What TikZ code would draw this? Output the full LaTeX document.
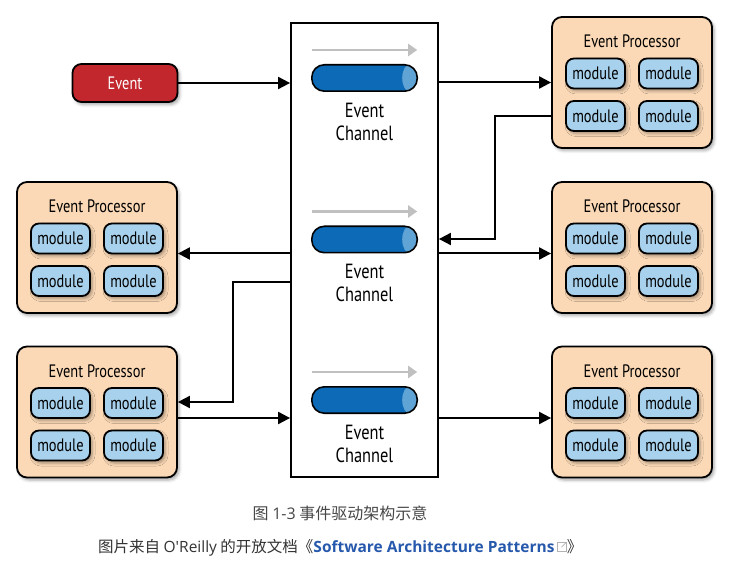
\documentclass[tikz,border=0pt]{standalone}
\usepackage{fontspec}
\setmainfont{Noto Sans CJK SC}
\newfontfamily\diafont[FakeStretch=0.8]{PT Sans}
\newfontfamily\latinfont{Open Sans}
\usepackage{tikz}
\usetikzlibrary{arrows.meta,shadows.blur}

\definecolor{procfill}{RGB}{251,217,182}
\definecolor{modfill}{RGB}{167,209,236}
\definecolor{eventred}{RGB}{193,39,45}
\definecolor{pipeblue}{RGB}{12,106,182}
\definecolor{capblue}{RGB}{96,164,214}
\definecolor{flowgrey}{RGB}{192,192,192}
\definecolor{captext}{RGB}{51,51,51}
\definecolor{linkblue}{RGB}{38,88,172}

\begin{document}
\begin{tikzpicture}[x=1pt,y=1pt,
	boxshadow/.style={blur shadow={shadow xshift=2pt,shadow yshift=-2.5pt,shadow blur radius=3pt,shadow opacity=35}},
	proc/.style={draw,line width=1.8pt,fill=procfill,rounded corners=10pt,minimum width=160pt,minimum height=131pt,boxshadow},
	modbox/.style={draw,line width=1.8pt,fill=modfill,rounded corners=8pt,minimum width=59pt,minimum height=30pt,inner sep=0pt,boxshadow,font=\diafont\fontsize{18}{20}\selectfont},
	pipe/.style={fill=pipeblue,rounded corners=12.5pt,minimum width=105pt,minimum height=26pt,inner sep=0pt},
	conn/.style={line width=2pt,-{Triangle[length=12pt,width=12pt]}},
	flow/.style={flowgrey,line width=2.4pt,-{Triangle[length=9pt,width=12pt]}}]
		\useasboundingbox (0,0) rectangle (735,573);
		\draw[color=black]
		node[draw,line width=1.8pt,minimum width=147pt,minimum height=454pt] (chan) at (364.5,323){}
		node[draw,line width=1.8pt,fill=eventred,text=white,rounded corners=9pt,minimum width=105pt,minimum height=38pt,boxshadow,font=\diafont\fontsize{18}{20}\selectfont] (event) at (125,490){Event}
		node[proc] (rpA) at (632,490.5){}
		node[proc] (rpB) at (632,325.5){}
		node[proc] (rpC) at (632,161){}
		node[proc] (lpA) at (97,325.5){}
		node[proc] (lpB) at (97,161){};
		\foreach \p in {rpA,rpB,rpC,lpA,lpB}{
			\node[font=\diafont\fontsize{18}{20}\selectfont] (\p-title) at ([yshift=41pt]\p.center) {Event Processor};
			\node[modbox] (\p-m1) at ([xshift=-36.5pt,yshift=9pt]\p.center) {module};
			\node[modbox] (\p-m2) at ([xshift=36.5pt,yshift=9pt]\p.center) {module};
			\node[modbox] (\p-m3) at ([xshift=-36.5pt,yshift=-33.5pt]\p.center) {module};
			\node[modbox] (\p-m4) at ([xshift=36.5pt,yshift=-33.5pt]\p.center) {module};
		}
		% channels with their pipes
		\node[pipe] (pipeA) at (364.5,495){};
		\node[pipe] (pipeB) at (364.5,333.5){};
		\node[pipe] (pipeC) at (364.5,173){};
		\foreach \c in {pipeA,pipeB,pipeC}{
			\begin{scope}
				\clip[rounded corners=12.5pt] (\c.south west) rectangle (\c.north east);
				\fill[capblue] ([xshift=-7pt]\c.east) ellipse [x radius=8pt,y radius=14pt];
			\end{scope}
			\draw[line width=1.6pt,rounded corners=12.5pt] (\c.south west) rectangle (\c.north east);
			\draw[flow] ([yshift=28pt]\c.west) -- ([yshift=28pt]\c.east);
		}
		\node[align=center,font=\diafont\fontsize{20.5}{23}\selectfont] (chanA-text) at (364.5,451){Event\\Channel};
		\node[align=center,font=\diafont\fontsize{20.5}{23}\selectfont] (chanB-text) at (364.5,290){Event\\Channel};
		\node[align=center,font=\diafont\fontsize{20.5}{23}\selectfont] (chanC-text) at (364.5,129){Event\\Channel};
		% connectors
		\coordinate (bendR) at (495,334);
		\coordinate (tapL) at (233,291);
		\coordinate (bendL) at (233,171);
		\coordinate (outRB) at ([yshift=-6pt]rpB.west);
		\coordinate (inLA) at ([yshift=-6pt]lpA.east);
		\coordinate (outLB) at ([yshift=-6pt]lpB.east);
		\coordinate (inRC) at ([yshift=-6pt]rpC.west);
		\draw[conn] (event.east) -- (event.east -| chan.west);
		\draw[conn] (chan.east |- rpA.west) -- (rpA.west);
		\draw[conn] ([yshift=-34pt]rpA.west) -| (bendR) -- (bendR -| chan.east);
		\draw[conn] (outRB -| chan.east) -- (outRB);
		\draw[conn] (inLA -| chan.west) -- (inLA);
		\draw[conn] (tapL -| chan.west) -- (tapL) -- (bendL) -- (bendL -| lpB.east);
		\draw[conn] (outLB) -- (outLB -| chan.west);
		\draw[conn] (inRC -| chan.east) -- (inRC);
		% caption
		\node[anchor=base,inner sep=0pt,text=captext!90,font=\fontsize{16}{19}\selectfont] (capA) at (340,54){图 {\latinfont 1-3} 事件驱动架构示意};
		\node[anchor=base west,inner sep=0pt,text=captext,font=\fontsize{15.5}{18}\selectfont] (capB) at (98,21){图片来自 {\latinfont O'Reilly} 的开放文档《\textcolor{linkblue}{\latinfont\bfseries Software Architecture Patterns}};
		\node[draw=gray!60,line width=0.7pt,minimum size=9pt,inner sep=0pt,anchor=south west] (capIcon) at ([xshift=2pt]capB.base east){};
		\draw[gray!60,line width=0.7pt,-{Straight Barb[length=1.5pt]}] (capIcon.center) -- (capIcon.north east);
		\node[anchor=base west,inner sep=0pt,text=captext,font=\fontsize{15.5}{18}\selectfont] (capEnd) at ([xshift=12pt]capB.base east){》};
		\end{tikzpicture}
\end{document}
